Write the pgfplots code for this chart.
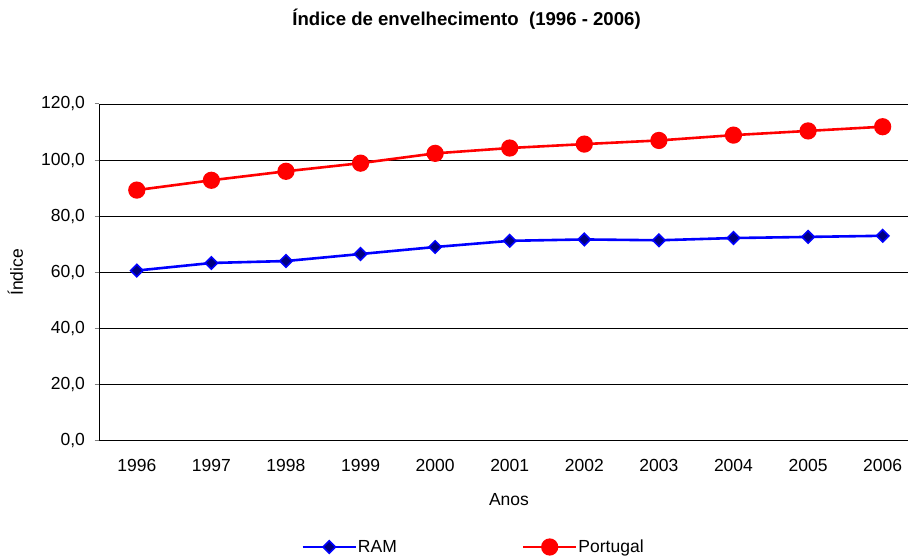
\documentclass[border=0pt]{standalone}
\usepackage{fontspec}
\setmainfont{Liberation Sans}
\usepackage{pgfplots}
\pgfplotsset{compat=1.18}
\definecolor{ramfill}{RGB}{0,0,128}
\definecolor{ramline}{RGB}{0,0,255}
\definecolor{ptred}{RGB}{255,0,0}
\newcommand{\fs}{\fontsize{17.5}{21}\selectfont}
\begin{document}
\begin{tikzpicture}
\useasboundingbox (-99.5pt,-115.5pt) rectangle (810.5pt,440.5pt);
\begin{axis}[
  at={(0pt,0pt)}, anchor=south west,
  scale only axis, width=808.5pt, height=336.5pt,
  xmin=-0.5, xmax=10.34, ymin=0, ymax=120,
  axis x line*=bottom, axis y line*=left,
  axis line style={black, line width=1.6pt},
  ytick={0,20,...,120},
  xtick={0,...,10},
  xticklabels={1996,1997,1998,1999,2000,2001,2002,2003,2004,2005,2006},
  x tick style={draw=none},
  y tick style={draw=gray, line width=1pt},
  tick align=outside, major tick length=5pt,
  extra x ticks={-0.5,0.5,1.5,2.5,3.5,4.5,5.5,6.5,7.5,8.5,9.5},
  extra x tick labels={},
  extra x tick style={grid=none, major tick length=5pt, tick style={draw=gray, line width=1pt}},
  ymajorgrids, major grid style={black, line width=0.9pt},
  /pgf/number format/.cd, fixed, fixed zerofill, precision=1, use comma, assume math mode=true,
  /pgfplots/.cd,
  tick label style={font=\fs},
  xticklabel style={yshift=-10pt},
  yticklabel style={xshift=-6pt},
  title={\textbf{Índice de envelhecimento\ \ (1996 - 2006)}},
  title style={font=\fontsize{18.6}{22}\selectfont, at={(axis description cs:0.454,1.2348)}, anchor=center},
  xlabel={Anos}, xlabel style={font=\fs, at={(axis description cs:0.5065,-0.177)}, anchor=center},
  ylabel={Índice}, ylabel style={font=\fs, at={(axis description cs:-0.104,0.5)}, anchor=center, rotate=0},
  legend columns=2,
  legend style={font=\fs, at={(axis description cs:0.462,-0.3165)}, anchor=center, draw=none, fill=none,
    nodes={inner sep=1pt},
    /tikz/every even column/.append style={column sep=124pt}},
  legend cell align=left,
  clip=false,
]
\addplot[ramline, line width=2.6pt, mark=square*, mark size=4.4pt,
  mark options={rotate=45, fill=ramfill, draw=ramline, line width=1.6pt},
  legend image code/.code={\draw[mark repeat=2, mark phase=2] plot coordinates {(0pt,0pt)(26.5pt,0pt)(53pt,0pt)};}]
coordinates {(0,60.6)(1,63.3)(2,64.0)(3,66.5)(4,69.0)(5,71.2)(6,71.7)(7,71.4)(8,72.2)(9,72.6)(10,73.0)};
\addlegendentry{RAM}
\addplot[ptred, line width=2.6pt, mark=*, mark size=7.3pt,
  mark options={fill=ptred, draw=none},
  legend image code/.code={\draw[mark repeat=2, mark phase=2] plot coordinates {(0pt,0pt)(26.5pt,0pt)(53pt,0pt)};}]
coordinates {(0,89.3)(1,92.8)(2,96.0)(3,98.9)(4,102.4)(5,104.3)(6,105.7)(7,107.0)(8,108.9)(9,110.4)(10,111.9)};
\addlegendentry{Portugal}
\end{axis}
\end{tikzpicture}
\end{document}
